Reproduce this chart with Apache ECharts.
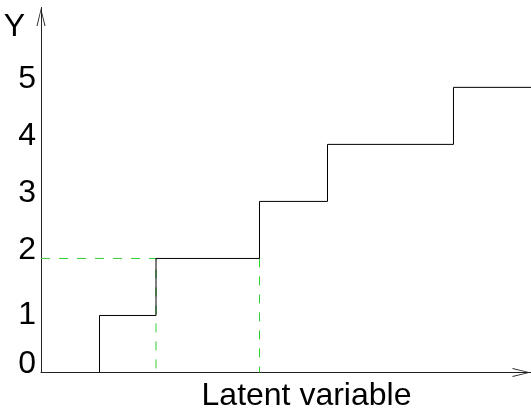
<!DOCTYPE html>
<html>
<head>
<meta charset="utf-8">
<script src="https://cdn.jsdelivr.net/npm/echarts@6/dist/echarts.min.js"></script>
<style>
  html, body { margin: 0; padding: 0; background: #fff; }
  #chart { width: 531px; height: 410px; }
</style>
</head>
<body>
<div id="chart"></div>
<script>
// Ordinal outcome Y as a step function of a latent variable
const thresholds = [11.94, 23.47, 44.59, 58.47, 84.18]; // cut points on the latent scale
const levels = [1, 2, 3, 4, 5];                          // Y value reached after each cut point
const latentMax = 100;
const yTicks = [0, 1, 2, 3, 4, 5];
const highlightLevel = 2;                                // level whose interval is marked

// Step outline: vertical rise at every cut point, flat between them
const stepPoints = [[thresholds[0], 0]];
thresholds.forEach((t, i) => {
  stepPoints.push([t, levels[i]]);
  const next = i + 1 < thresholds.length ? thresholds[i + 1] : latentMax;
  stepPoints.push([next, levels[i]]);
});

// Dashed guides for the interval that maps to Y = 2
const idx = levels.indexOf(highlightLevel);
const lo = thresholds[idx], hi = thresholds[idx + 1];
const guideA = [[0, highlightLevel], [lo, highlightLevel], [lo, 0]];
const guideB = [[hi, highlightLevel], [hi, 0]];

// Open chevron used as arrow head on both axes
const chevron = 'path://M5,0 L10,20 L8.9,20 L5,3.2 L1.1,20 L0,20 Z';

const fontFam = '"Liberation Sans", Arial, sans-serif';
const fs = 32;
const axisColor = '#222';
const green = '#33cc33';

const chart = echarts.init(document.getElementById('chart'), null, { renderer: 'canvas' });
chart.setOption({
  animation: false,
  backgroundColor: '#fff',
  grid: { left: 41, right: 0, top: 7.5, bottom: 37.5, containLabel: false, outerBoundsMode: 'none' },
  xAxis: {
    type: 'value', min: 0, max: latentMax,
    name: 'Latent variable', nameLocation: 'middle', nameGap: 8,
    nameTextStyle: { fontSize: fs, color: '#000', fontFamily: fontFam, padding: [0, 0, 0, 41] },
    axisLine: { show: true, symbol: ['none', chevron], symbolSize: [9, 19], symbolOffset: [0, -9.5],
      lineStyle: { color: axisColor, width: 1 } },
    axisTick: { show: false }, axisLabel: { show: false }, splitLine: { show: false }
  },
  yAxis: [
    {
      type: 'value', min: 0, max: 6.4, interval: 1,
      name: 'Y', nameLocation: 'end', nameGap: -36,
      nameTextStyle: { fontSize: fs, color: '#000', fontFamily: fontFam, align: 'right', padding: [0, 16, 0, 0] },
      axisLine: { show: true, symbol: ['none', chevron], symbolSize: [9, 19], symbolOffset: [0, -9.5],
        lineStyle: { color: axisColor, width: 1 } },
      axisTick: { show: false }, splitLine: { show: false },
      axisLabel: {
        fontSize: fs, color: '#000', fontFamily: fontFam, margin: 5,
        verticalAlign: 'bottom', lineHeight: 17,
        formatter: v => (yTicks.includes(v) && v !== 1) ? String(v) : ''
      }
    },
    {
      type: 'value', min: 0, max: 6.4, interval: 1, position: 'left',
      axisLine: { show: false }, axisTick: { show: false }, splitLine: { show: false },
      axisLabel: {
        fontSize: fs, color: '#000', fontFamily: fontFam, margin: 5,
        verticalAlign: 'middle', padding: [4, 0, 0, 0],
        formatter: v => v === 1 ? String(v) : ''
      }
    }
  ],
  series: [
    { type: 'line', data: guideA, symbol: 'none', z: 1,
      lineStyle: { color: green, width: 1, type: [9, 9] } },
    { type: 'line', data: guideB, symbol: 'none', z: 1,
      lineStyle: { color: green, width: 1, type: [9, 9] } },
    { type: 'line', data: stepPoints, symbol: 'none', z: 2,
      lineStyle: { color: '#000', width: 1 } }
  ]
});
</script>
</body>
</html>
